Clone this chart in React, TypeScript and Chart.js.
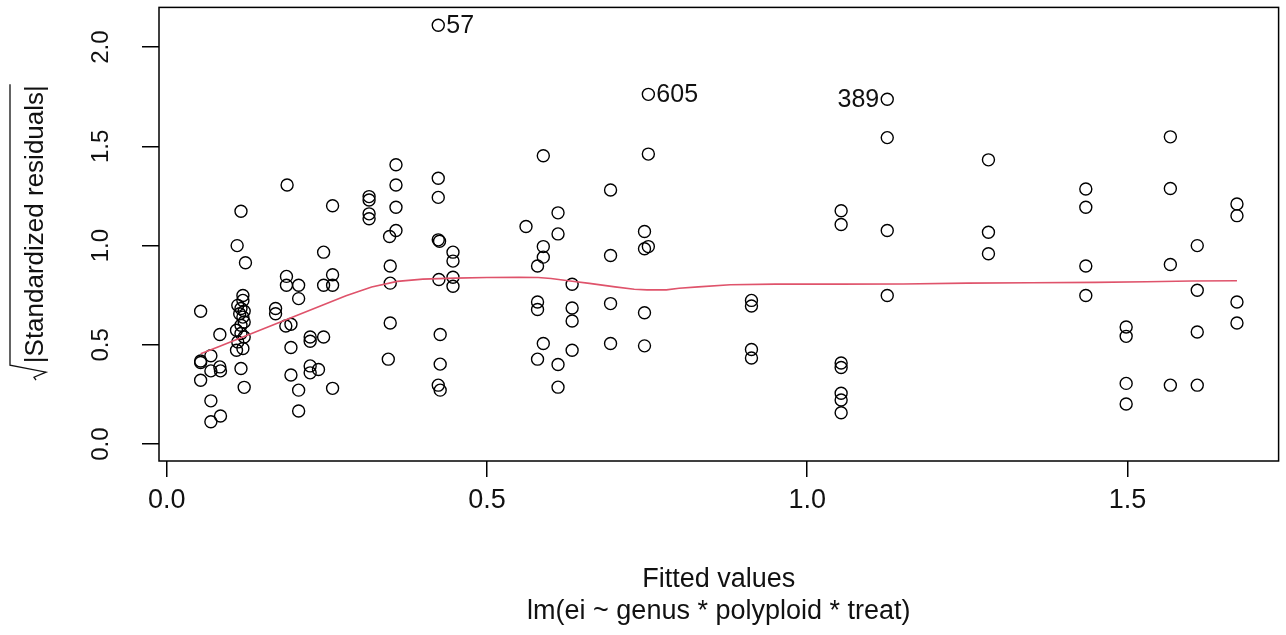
import { useEffect, useRef } from 'react';
import { Chart, registerables } from 'chart.js';

Chart.register(...registerables);

// Fitted values (x) and sqrt(|standardized residuals|) (y)
const fittedValues = [
  0.053, 0.053, 0.053, 0.053,
  0.069, 0.069, 0.069, 0.069,
  0.083, 0.083, 0.084, 0.084,
  0.116, 0.110, 0.123, 0.119, 0.119, 0.111, 0.116, 0.121, 0.114, 0.119,
  0.121, 0.116, 0.109, 0.116, 0.121, 0.111, 0.119, 0.109, 0.116, 0.121,
  0.170, 0.170,
  0.188, 0.187, 0.187, 0.186, 0.194, 0.194, 0.194,
  0.206, 0.206, 0.206, 0.206,
  0.224, 0.224, 0.224, 0.224, 0.237,
  0.245, 0.245, 0.245,
  0.259, 0.259, 0.259, 0.259,
  0.316, 0.316, 0.316, 0.316,
  0.358, 0.358, 0.358, 0.358, 0.348, 0.349, 0.349, 0.349, 0.346,
  0.424, 0.424, 0.424, 0.424, 0.426, 0.425, 0.427, 0.427, 0.424, 0.427,
  0.447, 0.447, 0.447, 0.447,
  0.561,
  0.588, 0.588, 0.588, 0.579, 0.579, 0.579, 0.588, 0.579,
  0.611, 0.611, 0.611, 0.611,
  0.633, 0.633, 0.633, 0.633,
  0.693, 0.693, 0.693, 0.693,
  0.752, 0.752, 0.746, 0.752, 0.746, 0.746, 0.746,
  0.913, 0.913, 0.913, 0.913,
  1.053, 1.053, 1.053, 1.053, 1.053, 1.053, 1.053,
  1.125, 1.125, 1.125, 1.125,
  1.283, 1.283, 1.283,
  1.435, 1.435, 1.435, 1.435,
  1.498, 1.498, 1.498, 1.498,
  1.567, 1.567, 1.567, 1.567,
  1.609, 1.609, 1.609, 1.609,
  1.671, 1.671, 1.671, 1.671,
];

const sqrtStdResiduals = [
  0.669, 0.419, 0.411, 0.322,
  0.445, 0.369, 0.218, 0.113,
  0.552, 0.389, 0.369, 0.142,
  1.173, 1.000, 0.914, 0.749, 0.724, 0.699, 0.683, 0.670, 0.657, 0.640,
  0.615, 0.599, 0.574, 0.557, 0.540, 0.515, 0.482, 0.473, 0.381, 0.286,
  0.683, 0.657,
  1.305, 0.845, 0.800, 0.595, 0.604, 0.487, 0.348,
  0.800, 0.733, 0.272, 0.167,
  0.540, 0.518, 0.394, 0.359, 0.376,
  0.967, 0.800, 0.540,
  1.201, 0.853, 0.800, 0.281,
  1.247, 1.230, 1.160, 1.135,
  1.407, 1.305, 1.193, 1.076, 1.046, 0.897, 0.811, 0.610, 0.428,
  2.110, 1.339, 1.243, 1.029, 1.022, 0.829, 0.552, 0.403, 0.297, 0.272,
  0.967, 0.922, 0.841, 0.795,
  1.096,
  1.453, 0.995, 0.942, 0.897, 0.716, 0.678, 0.507, 0.428,
  1.165, 1.059, 0.401, 0.287,
  0.805, 0.686, 0.620, 0.473,
  1.280, 0.950, 0.708, 0.507,
  1.762, 1.461, 1.071, 0.995, 0.984, 0.662, 0.495,
  0.724, 0.696, 0.477, 0.434,
  1.176, 1.106, 0.409, 0.386, 0.256, 0.222, 0.158,
  1.737, 1.544, 1.076, 0.749,
  1.432, 1.067, 0.959,
  1.285, 1.193, 0.897, 0.749,
  0.590, 0.543, 0.306, 0.202,
  1.548, 1.288, 0.905, 0.297,
  1.000, 0.775, 0.565, 0.297,
  1.210, 1.151, 0.716, 0.610,
];

// Smoother (red line)
const smoothX = [0.053, 0.08, 0.12, 0.16, 0.20, 0.24, 0.28, 0.32, 0.36, 0.40, 0.45, 0.50, 0.55, 0.58, 0.60, 0.63, 0.66, 0.70, 0.73, 0.75, 0.78, 0.80, 0.83, 0.88, 0.95, 1.05, 1.15, 1.25, 1.35, 1.45, 1.53, 1.60, 1.671];
const smoothY = [0.455, 0.489, 0.541, 0.592, 0.644, 0.696, 0.748, 0.792, 0.820, 0.831, 0.836, 0.839, 0.840, 0.839, 0.834, 0.822, 0.810, 0.792, 0.780, 0.777, 0.777, 0.785, 0.792, 0.803, 0.806, 0.806, 0.807, 0.811, 0.813, 0.815, 0.818, 0.822, 0.823];

// Identified points
const idX = [0.424, 0.752, 1.125];
const idY = [2.110, 1.762, 1.737];
const idText = ['57', '605', '389'];
const idSide = ['right', 'right', 'left'];

const xTicks = [0, 0.5, 1, 1.5];
const xTickLabels = ['0.0', '0.5', '1.0', '1.5'];
const yTicks = [0, 0.5, 1, 1.5, 2];
const yTickLabels = ['0.0', '0.5', '1.0', '1.5', '2.0'];

const xTitle = 'Fitted values';
const subTitle = 'lm(ei ~ genus * polyploid * treat)';
const yTitle = '|Standardized residuals|';

const FONT = '"Liberation Sans", Arial, sans-serif';

const rPlot = {
  id: 'rPlot',
  afterDraw(chart: any) {
    const { ctx, chartArea: a, scales } = chart;
    const xs = scales.x;
    const ys = scales.y;
    ctx.save();
    ctx.strokeStyle = '#000';
    ctx.lineWidth = 1.5;
    ctx.strokeRect(a.left, a.top, a.right - a.left, a.bottom - a.top);

    ctx.fillStyle = '#111';
    // x tick labels
    ctx.font = `27px ${FONT}`;
    ctx.textAlign = 'center';
    ctx.textBaseline = 'alphabetic';
    xTicks.forEach((v, i) => {
      ctx.fillText(xTickLabels[i], xs.getPixelForValue(v), a.bottom + 47);
    });
    // y tick labels (rotated)
    ctx.font = `24px ${FONT}`;
    yTicks.forEach((v, i) => {
      ctx.save();
      ctx.translate(a.left - 51, ys.getPixelForValue(v));
      ctx.rotate(-Math.PI / 2);
      ctx.fillText(yTickLabels[i], 0, 0);
      ctx.restore();
    });
    // x titles
    const cx = (a.left + a.right) / 2;
    ctx.font = `27px ${FONT}`;
    ctx.fillText(xTitle, cx, a.bottom + 126);
    ctx.fillText(subTitle, cx, a.bottom + 158);

    // y title with sqrt
    ctx.font = `26px ${FONT}`;
    const tw = ctx.measureText(yTitle).width;
    const rw = 20;
    const cy = (a.top + a.bottom) / 2;
    ctx.save();
    ctx.translate(a.left - 116, cy);
    ctx.rotate(-Math.PI / 2);
    ctx.textAlign = 'center';
    ctx.fillText(yTitle, rw / 2, 0);
    const u0 = -tw / 2 + rw / 2;
    const u1 = tw / 2 + rw / 2;
    ctx.strokeStyle = '#111';
    ctx.lineWidth = 1.3;
    ctx.beginPath();
    ctx.moveTo(u1 + 1, -33);
    ctx.lineTo(u0 - 2, -33);
    ctx.lineTo(u0 - 9, 3);
    ctx.lineTo(u0 - 14, -9);
    ctx.lineTo(u0 - 17, -7);
    ctx.stroke();
    ctx.restore();

    // id labels
    ctx.font = `25px ${FONT}`;
    ctx.textBaseline = 'middle';
    idX.forEach((v, i) => {
      const px = xs.getPixelForValue(v);
      const py = ys.getPixelForValue(idY[i]);
      if (idSide[i] === 'right') {
        ctx.textAlign = 'left';
        ctx.fillText(idText[i], px + 8, py + 1);
      } else {
        ctx.textAlign = 'right';
        ctx.fillText(idText[i], px - 8, py + 1);
      }
    });
    ctx.restore();
  },
};

export default function App() {
  const ref = useRef<HTMLCanvasElement | null>(null);
  useEffect(() => {
    if (!ref.current) return;
    const chart = new Chart(ref.current, {
      type: 'scatter',
      data: {
        datasets: [
          {
            type: 'line',
            data: smoothX.map((x, i) => ({ x, y: smoothY[i] })),
            borderColor: '#DF536B',
            borderWidth: 1.6,
            pointRadius: 0,
            fill: false,
            tension: 0,
          } as any,
          {
            data: fittedValues.map((x, i) => ({ x, y: sqrtStdResiduals[i] })),
            pointStyle: 'circle',
            pointRadius: 6,
            borderColor: '#000',
            backgroundColor: 'rgba(0,0,0,0)',
            borderWidth: 1.4,
          },
        ],
      },
      options: {
        animation: false,
        responsive: false,
        events: [],
        layout: { padding: { left: 0, right: 4, top: 6, bottom: 0 } },
        plugins: { legend: { display: false }, tooltip: { enabled: false } },
        scales: {
          x: {
            type: 'linear',
            min: -0.012,
            max: 1.736,
            afterBuildTicks: (s: any) => { s.ticks = xTicks.map((value) => ({ value })); },
            afterFit: (s: any) => { s.height = 174; },
            grid: { drawOnChartArea: false, drawTicks: true, tickLength: 16, color: '#000', lineWidth: 1.5 },
            border: { display: false },
            ticks: { display: false },
          },
          y: {
            type: 'linear',
            min: -0.085,
            max: 2.2,
            afterBuildTicks: (s: any) => { s.ticks = yTicks.map((value) => ({ value })); },
            afterFit: (s: any) => { s.width = 159; },
            grid: { drawOnChartArea: false, drawTicks: true, tickLength: 17, color: '#000', lineWidth: 1.5 },
            border: { display: false },
            ticks: { display: false },
          },
        },
      },
      plugins: [rPlot],
    });
    return () => chart.destroy();
  }, []);
  return (
    <div style={{ position: 'fixed', left: 0, top: 0, width: 1286, height: 635, background: '#fff' }}>
      <canvas ref={ref} width={1286} height={635} style={{ display: 'block' }} />
    </div>
  );
}
